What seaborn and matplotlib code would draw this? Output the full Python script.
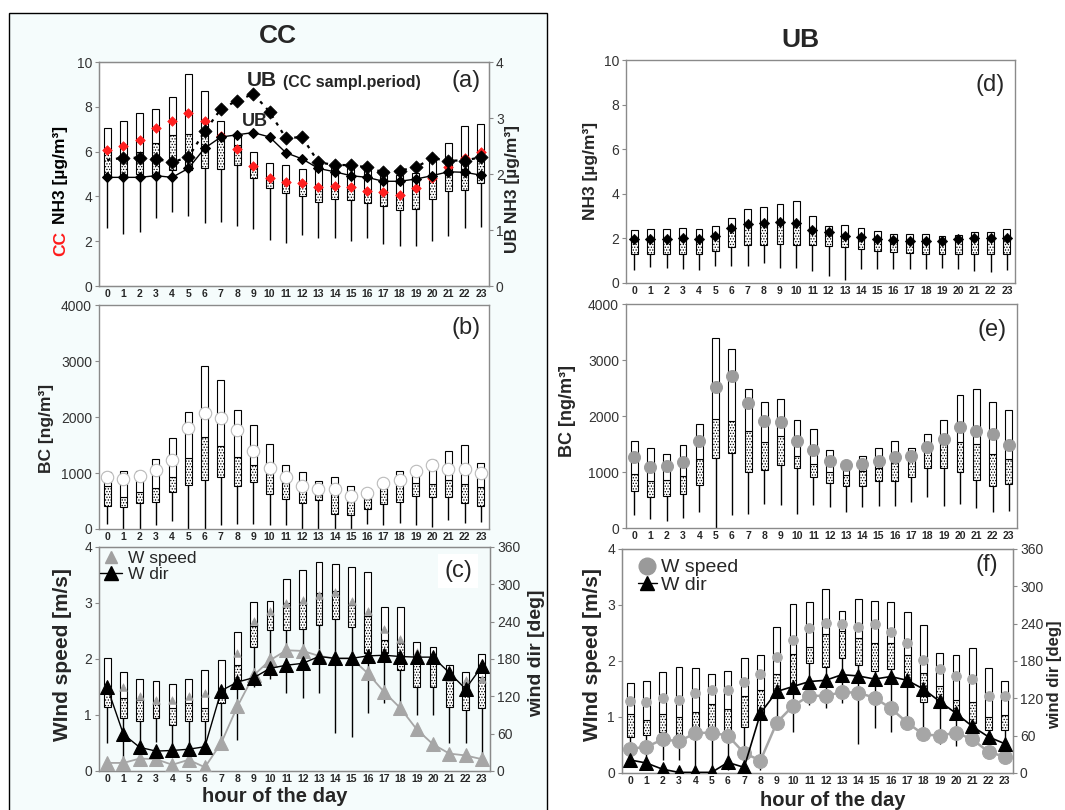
import numpy as np
import matplotlib
matplotlib.use("Agg")
import matplotlib.pyplot as plt
import seaborn as sns
from matplotlib.lines import Line2D
from matplotlib.patches import Rectangle

sns.set_style("ticks")
plt.rcParams["font.family"] = ["Liberation Sans", "DejaVu Sans"]
plt.rcParams["hatch.linewidth"] = 0.6

hours = list(range(24))
hour_labels = [str(h) for h in hours]

# ---------------- (a) CC NH3 [ug/m3] (left) and UB NH3 (right) ----------------
a_top = [7.05, 7.35, 7.72, 7.91, 8.43, 9.46, 8.69, 7.35, 6.75, 6.00, 5.48, 5.38,
         5.23, 5.50, 5.33, 5.26, 5.19, 5.04, 4.96, 5.04, 5.81, 6.38, 7.15, 7.24]
a_med = [6.00, 5.80, 6.00, 6.38, 6.72, 6.78, 6.83, 6.65, 6.30, 5.30, 4.80, 4.60,
         4.50, 4.40, 4.40, 4.35, 4.30, 4.20, 4.00, 4.30, 5.00, 5.20, 5.60, 5.60]
a_q1 = [4.90, 4.90, 5.00, 5.00, 5.20, 5.20, 5.29, 5.23, 5.40, 4.84, 4.38, 4.14,
        4.02, 3.77, 3.87, 3.84, 3.70, 3.58, 3.40, 3.43, 3.87, 4.25, 4.29, 4.62]
a_low = [2.60, 2.32, 2.40, 3.03, 3.32, 3.13, 2.80, 2.85, 2.70, 2.55, 2.06, 1.94,
         2.28, 2.16, 2.16, 2.03, 2.16, 1.86, 1.79, 1.79, 2.01, 2.24, 2.58, 2.65]
a_mean = [6.05, 6.23, 6.53, 7.05, 7.35, 7.72, 7.35, 6.70, 6.11, 5.37, 4.84, 4.66,
          4.62, 4.44, 4.47, 4.40, 4.25, 4.19, 4.07, 4.37, 4.80, 5.30, 5.70, 5.97]
ub_nh3 = [1.94, 1.94, 1.94, 1.97, 1.94, 2.10, 2.46, 2.66, 2.70, 2.74, 2.66, 2.38,
          2.27, 2.10, 2.04, 1.97, 1.94, 1.87, 1.87, 1.91, 1.97, 2.04, 2.03, 1.98]
ub_nh3_ccperiod = [2.25, 2.29, 2.29, 2.27, 2.21, 2.30, 2.76, 3.16, 3.31, 3.43, 3.11, 2.64,
                   2.66, 2.21, 2.16, 2.16, 2.12, 2.03, 2.06, 2.12, 2.28, 2.24, 2.24, 2.30]

# ---------------- (b) CC BC [ng/m3] ----------------
b_top = [1010, 1028, 1040, 1254, 1617, 2086, 2912, 2663, 2128, 1854, 1516, 1135,
         1010, 850, 921, 773, 713, 820, 1028, 1088, 1224, 1397, 1492, 1177]
b_med = [760, 565, 660, 731, 921, 1266, 1640, 1486, 1284, 1135, 1010, 820,
         713, 612, 630, 523, 541, 743, 808, 820, 802, 880, 802, 743]
b_q1 = [416, 386, 464, 481, 660, 779, 868, 927, 761, 832, 630, 541,
        464, 511, 267, 256, 363, 446, 481, 594, 571, 571, 464, 404]
b_low = [89, 0, 0, 77, 137, 0, 0, 65, 89, 89, 65, 65,
         0, 0, 0, 0, 89, 65, 107, 65, 36, 166, 107, 119]
b_mean = [927, 897, 951, 1046, 1236, 1801, 2068, 1979, 1771, 1385, 1088, 921,
          761, 713, 713, 582, 642, 820, 880, 1028, 1135, 1076, 1076, 998]

# ---------------- (c) CC wind speed [m/s] / wind dir [deg] ----------------
c_top = [2.01, 1.76, 1.65, 1.61, 1.55, 1.65, 1.81, 1.99, 2.49, 3.01, 3.04, 3.43,
         3.59, 3.73, 3.70, 3.64, 3.55, 2.92, 2.92, 2.31, 2.21, 1.89, 1.77, 2.09]
c_med = [1.40, 1.30, 1.27, 1.21, 1.13, 1.21, 1.12, 1.37, 1.90, 2.59, 2.83, 3.00,
         3.01, 3.18, 3.22, 2.97, 2.76, 2.34, 2.29, 2.04, 1.95, 1.74, 1.39, 1.68]
c_q1 = [1.15, 0.95, 0.90, 0.95, 0.82, 0.90, 0.90, 1.21, 1.62, 2.21, 2.52, 2.52,
        2.53, 2.61, 2.72, 2.58, 2.10, 2.10, 1.80, 1.50, 1.50, 1.15, 1.09, 1.12]
c_low = [0.50, 0.15, 0.50, 0.52, 0.43, 0.43, 0.43, 0.48, 0.55, 1.50, 1.64, 1.40,
         1.31, 1.40, 0.68, 0.60, 1.03, 1.21, 1.21, 1.00, 1.00, 0.50, 0.50, 0.31]
c_mean = [1.56, 1.50, 1.34, 1.27, 1.27, 1.34, 1.39, 1.44, 2.11, 2.67, 2.85, 3.00,
          3.06, 3.15, 3.19, 3.04, 2.85, 2.53, 2.35, 2.13, 2.04, 1.68, 1.62, 1.65]
c_wdir = [135, 59, 38, 32, 33, 35, 39, 129, 143, 150, 165, 170,
          173, 184, 181, 181, 185, 186, 184, 183, 183, 158, 132, 168]
c_gray = [13, 13, 20, 19, 10, 18, 6, 45, 104, 154, 178, 194,
          193, 185, 181, 181, 157, 127, 101, 67, 43, 28, 25, 19]

# ---------------- (d) UB NH3 [ug/m3] ----------------
d_top = [2.39, 2.43, 2.43, 2.46, 2.43, 2.54, 2.91, 3.31, 3.40, 3.55, 3.66, 2.99,
         2.54, 2.58, 2.46, 2.31, 2.21, 2.21, 2.21, 2.09, 2.16, 2.28, 2.28, 2.42]
d_med = [1.92, 1.92, 1.92, 1.95, 1.93, 2.07, 2.40, 2.60, 2.63, 2.66, 2.64, 2.35,
         2.22, 2.07, 2.00, 1.94, 1.90, 1.83, 1.83, 1.83, 1.94, 1.96, 1.96, 1.96]
d_q1 = [1.31, 1.31, 1.31, 1.30, 1.31, 1.42, 1.61, 1.69, 1.72, 1.76, 1.69, 1.69,
        1.64, 1.61, 1.54, 1.42, 1.39, 1.34, 1.31, 1.30, 1.31, 1.31, 1.31, 1.31]
d_low = [0.60, 0.72, 0.67, 0.63, 0.60, 0.78, 0.75, 0.78, 0.90, 0.67, 0.67, 0.52,
         0.33, 0.15, 0.63, 0.63, 0.63, 0.63, 0.63, 0.67, 0.63, 0.52, 0.48, 0.60]
d_mean = [1.97, 1.97, 1.97, 2.01, 1.99, 2.12, 2.46, 2.66, 2.69, 2.72, 2.69, 2.39,
          2.27, 2.12, 2.06, 1.99, 1.94, 1.87, 1.87, 1.87, 1.99, 2.01, 2.01, 2.01]

# ---------------- (e) UB BC [ng/m3] ----------------
e_top = [1560, 1429, 1321, 1476, 1863, 3393, 3196, 2488, 2250, 2310, 1935, 1768,
         1387, 1202, 1292, 1429, 1548, 1429, 1679, 1935, 2369, 2482, 2250, 2101]
e_med = [964, 845, 863, 923, 1232, 1946, 1905, 1726, 1530, 1649, 1280, 1143,
         994, 952, 1012, 1071, 1161, 1208, 1488, 1506, 1530, 1500, 1321, 1238]
e_q1 = [655, 548, 577, 613, 774, 1250, 1339, 1000, 1030, 1131, 1071, 911,
        804, 744, 756, 833, 845, 911, 1071, 1071, 1000, 851, 744, 792]
e_low = [238, 167, 119, 179, 286, 0, 226, 250, 435, 405, 256, 417,
         375, 280, 375, 387, 387, 458, 554, 387, 435, 357, 280, 310]
e_mean = [1268, 1089, 1101, 1179, 1548, 2518, 2708, 2232, 1917, 1887, 1548, 1387,
          1202, 1119, 1143, 1202, 1268, 1280, 1440, 1595, 1798, 1738, 1679, 1488]

# ---------------- (f) UB wind speed [m/s] / wind dir [deg] ----------------
f_top = [1.60, 1.64, 1.80, 1.89, 1.88, 1.77, 1.82, 2.05, 2.10, 2.61, 3.02, 3.05,
         3.29, 2.89, 3.10, 3.08, 3.05, 2.87, 2.65, 2.14, 2.11, 2.23, 1.88, 1.65]
f_med = [1.06, 0.95, 1.06, 1.00, 1.09, 1.24, 1.15, 1.38, 1.48, 1.77, 2.12, 2.25,
         2.48, 2.53, 2.41, 2.33, 2.33, 2.10, 1.79, 1.56, 1.30, 1.26, 1.00, 1.04]
f_q1 = [0.64, 0.67, 0.73, 0.67, 0.73, 0.73, 0.74, 0.82, 1.02, 1.34, 1.52, 1.96,
        1.89, 2.05, 1.93, 1.82, 1.86, 1.55, 1.26, 1.16, 0.98, 0.89, 0.77, 0.77]
f_low = [0.27, 0.24, 0.24, 0.24, 0.06, 0.06, 0.06, 0.17, 0.06, 0.80, 0.73, 1.22,
         1.16, 1.25, 0.51, 0.80, 0.74, 0.86, 0.65, 0.51, 0.48, 0.60, 0.57, 0.51]
f_mean = [1.29, 1.26, 1.34, 1.31, 1.43, 1.48, 1.48, 1.62, 1.76, 2.08, 2.38, 2.59,
          2.67, 2.66, 2.61, 2.66, 2.51, 2.32, 2.02, 1.86, 1.74, 1.68, 1.38, 1.38]
f_wdir = [21, 16, 6, 1, 1, 1, 17, 9, 96, 131, 139, 147,
          149, 158, 156, 151, 155, 149, 135, 115, 96, 75, 58, 47]
f_gray = [39, 42, 54, 51, 64, 65, 60, 32, 20, 81, 108, 124,
          124, 130, 129, 121, 104, 81, 62, 60, 65, 54, 34, 26]

W, H = 1065, 810
fig = plt.figure(figsize=(W / 100, H / 100), dpi=100)


def px_axes(x0, y0, x1, y1):
    return fig.add_axes([x0 / W, 1 - y1 / H, (x1 - x0) / W, (y1 - y0) / H])


def fx(x):
    return x / W


def fy(y):
    return 1 - y / H


# left panel background frame
fig.patches.append(Rectangle((fx(9), -0.01), fx(547) - fx(9), fy(13) + 0.01,
                             transform=fig.transFigure, facecolor="#f5fcfc",
                             edgecolor="black", lw=1.0, zorder=-5))

SPINE = "#8a8a8a"


def style_axes(ax, ylim, yticks):
    ax.set_xlim(-0.5, 23.5)
    ax.set_ylim(*ylim)
    ax.set_yticks(yticks)
    ax.set_xticks(hours)
    ax.set_xticklabels(hour_labels, fontsize=7.5, fontweight="bold")
    ax.tick_params(axis="x", length=0, pad=2)
    ax.tick_params(axis="y", left=True, direction="out", length=3, width=0.8,
                   color=SPINE, labelsize=10, labelcolor="#333333", pad=2)
    for s in ax.spines.values():
        s.set_visible(True)
        s.set_color(SPINE)
        s.set_linewidth(1.0)
    ax.set_xlabel("")
    ax.set_ylabel("")


def style_twin(ax2, ylim, yticks):
    ax2.set_ylim(*ylim)
    ax2.set_yticks(yticks)
    ax2.tick_params(axis="y", right=True, direction="out", length=3, width=0.8,
                    color=SPINE, labelsize=10, labelcolor="#333333", pad=2)
    for s in ax2.spines.values():
        s.set_color(SPINE)
    ax2.set_ylabel("")


def draw_boxes(ax, top, med, q1, low, width=0.42):
    x = np.array(hours, dtype=float)
    top, med, q1, low = map(np.asarray, (top, med, q1, low))
    ax.vlines(x, low, q1, color="black", lw=1.0, zorder=1)
    ax.bar(x, med - q1, bottom=q1, width=width, facecolor="white",
           edgecolor="black", hatch="......", lw=0.8, zorder=2)
    ax.bar(x, top - med, bottom=med, width=width, facecolor="white",
           edgecolor="black", lw=0.8, zorder=2)


# ===================== (a) =====================
axa = px_axes(99, 62, 489, 286)
draw_boxes(axa, a_top, a_med, a_q1, a_low)
sns.scatterplot(x=hours, y=a_mean, ax=axa, marker="D", s=24, color="#ff2020",
                edgecolor="#ff2020", linewidth=0.5, zorder=4, legend=False)
style_axes(axa, (0, 10), [0, 2, 4, 6, 8, 10])
axa2 = axa.twinx()
sns.lineplot(x=hours, y=ub_nh3, ax=axa2, color="black", lw=1.0, marker="D",
             markersize=5.5, markeredgecolor="black", zorder=5, legend=False)
sns.lineplot(x=hours, y=ub_nh3_ccperiod, ax=axa2, color="black", lw=1.6,
             linestyle=(0, (1.5, 2.5)), zorder=5, legend=False)
sns.scatterplot(x=hours[1:], y=ub_nh3_ccperiod[1:], ax=axa2, marker="D", s=45,
                color="black", edgecolor="black", zorder=6, legend=False)
style_twin(axa2, (0, 4), [0, 1, 2, 3, 4])
axa.text(0.941, 0.915, "(a)", transform=axa.transAxes, fontsize=17,
         ha="center", va="center")
fig.text(fx(247), fy(81), "UB", fontsize=15, fontweight="bold", ha="left", va="center")
fig.text(fx(283), fy(82), "(CC sampl.period)", fontsize=11.5, fontweight="bold",
         ha="left", va="center")
fig.text(fx(242), fy(121), "UB", fontsize=13, fontweight="bold", ha="left", va="center")
fig.text(fx(61), fy(256), "CC", color="#ff1a1a", fontsize=12.5, fontweight="bold",
         rotation=90, ha="center", va="bottom")
fig.text(fx(61), fy(224), "NH3 [µg/m³]", color="black", fontsize=12.5,
         fontweight="bold", rotation=90, ha="center", va="bottom")
fig.text(fx(513), fy(189), "UB NH3 [µg/m³]", fontsize=12.5, fontweight="bold",
         rotation=90, ha="center", va="center")

# ===================== (b) =====================
axb = px_axes(99, 305, 489, 529)
draw_boxes(axb, b_top, b_med, b_q1, b_low)
sns.scatterplot(x=hours, y=b_mean, ax=axb, marker="o", s=80, color="white",
                edgecolor="#bbbbbb", linewidth=0.8, zorder=4, legend=False)
style_axes(axb, (0, 4000), [0, 1000, 2000, 3000, 4000])
axb.text(0.941, 0.897, "(b)", transform=axb.transAxes, fontsize=17,
         ha="center", va="center")
fig.text(fx(47), fy(428), "BC [ng/m³]", fontsize=12.5, fontweight="bold",
         rotation=90, ha="center", va="center")

# ===================== (c) =====================
axc = px_axes(99, 547, 490, 771)
axc.set_facecolor("#f4fbfb")
draw_boxes(axc, c_top, c_med, c_q1, c_low)
sns.scatterplot(x=hours, y=c_mean, ax=axc, marker="^", s=30, color="#a0a0a0",
                edgecolor="#a0a0a0", zorder=4, legend=False)
style_axes(axc, (0, 4), [0, 1, 2, 3, 4])
axc2 = axc.twinx()
sns.lineplot(x=hours, y=c_gray, ax=axc2, color="#a6a6a6", lw=1.3, marker="^",
             markersize=10, markeredgecolor="#a6a6a6", zorder=5, legend=False)
sns.lineplot(x=hours, y=c_wdir, ax=axc2, color="black", lw=1.0, marker="^",
             markersize=10, markeredgecolor="black", zorder=6, legend=False)
style_twin(axc2, (0, 360), [0, 60, 120, 180, 240, 300, 360])
axc.text(0.918, 0.893, "(c)", transform=axc.transAxes, fontsize=17,
         ha="center", va="center", zorder=10,
         bbox=dict(facecolor="white", edgecolor="none", pad=4))
hc = [Line2D([], [], marker="^", color="#a0a0a0", ls="none", markersize=8),
      Line2D([], [], marker="^", color="black", ls="-", lw=1.0, markersize=10)]
axc2.legend(hc, ["W speed", "W dir"], loc="upper left", bbox_to_anchor=(-0.02, 1.02),
            frameon=False, fontsize=12.5, handlelength=1.3, handletextpad=0.3,
            labelspacing=0.05, borderaxespad=0.1)
fig.text(fx(62), fy(655), "WInd speed [m/s]", fontsize=15, fontweight="bold",
         rotation=90, ha="center", va="center")
fig.text(fx(537), fy(653), "wind dir [deg]", fontsize=14, fontweight="bold",
         rotation=90, ha="center", va="center")
fig.text(fx(275), fy(797), "hour of the day", fontsize=14.5, fontweight="bold",
         ha="center", va="center")

# ===================== (d) =====================
axd = px_axes(626, 60, 1015, 283)
draw_boxes(axd, d_top, d_med, d_q1, d_low)
sns.scatterplot(x=hours, y=d_mean, ax=axd, marker="D", s=28, color="black",
                edgecolor="black", zorder=4, legend=False)
style_axes(axd, (0, 10), [0, 2, 4, 6, 8, 10])
axd.text(0.936, 0.888, "(d)", transform=axd.transAxes, fontsize=17,
         ha="center", va="center")
fig.text(fx(591), fy(171), "NH3 [µg/m³]", fontsize=12.5, fontweight="bold",
         rotation=90, ha="center", va="center")

# ===================== (e) =====================
axe = px_axes(626, 304, 1017, 528)
draw_boxes(axe, e_top, e_med, e_q1, e_low)
sns.scatterplot(x=hours, y=e_mean, ax=axe, marker="o", s=75, color="#9c9c9c",
                edgecolor="#9c9c9c", zorder=4, legend=False)
style_axes(axe, (0, 4000), [0, 1000, 2000, 3000, 4000])
axe.text(0.936, 0.884, "(e)", transform=axe.transAxes, fontsize=17,
         ha="center", va="center")
fig.text(fx(567), fy(411), "BC [ng/m³]", fontsize=13, fontweight="bold",
         rotation=90, ha="center", va="center")

# ===================== (f) =====================
axf = px_axes(622, 549, 1013, 773)
draw_boxes(axf, f_top, f_med, f_q1, f_low)
sns.scatterplot(x=hours, y=f_mean, ax=axf, marker="o", s=50, color="#aaaaaa",
                edgecolor="#aaaaaa", zorder=4, legend=False)
style_axes(axf, (0, 4), [0, 1, 2, 3, 4])
axf2 = axf.twinx()
sns.lineplot(x=hours, y=f_gray, ax=axf2, color="#a6a6a6", lw=1.8, marker="o",
             markersize=10, markeredgecolor="#a6a6a6", zorder=5, legend=False)
sns.lineplot(x=hours, y=f_wdir, ax=axf2, color="black", lw=1.2, marker="^",
             markersize=10, markeredgecolor="black", zorder=6, legend=False)
style_twin(axf2, (0, 360), [0, 60, 120, 180, 240, 300, 360])
axf.text(0.933, 0.929, "(f)", transform=axf.transAxes, fontsize=17,
         ha="center", va="center")
hf = [Line2D([], [], marker="o", color="#9a9a9a", ls="none", markersize=12),
      Line2D([], [], marker="^", color="black", ls="-", lw=1.0, markersize=10)]
axf2.legend(hf, ["W speed", "W dir"], loc="upper left", bbox_to_anchor=(0.015, 1.0),
            frameon=False, fontsize=14, handlelength=1.0, handletextpad=0.2,
            labelspacing=0.0, borderaxespad=0.1)
fig.text(fx(592), fy(655), "WInd speed [m/s]", fontsize=15, fontweight="bold",
         rotation=90, ha="center", va="center")
fig.text(fx(1055), fy(675), "wind dir [deg]", fontsize=12, fontweight="bold",
         rotation=90, ha="center", va="center")
fig.text(fx(833), fy(800), "hour of the day", fontsize=14.5, fontweight="bold",
         ha="center", va="center")

# titles
fig.text(fx(278), fy(36), "CC", fontsize=19, fontweight="bold", ha="center", va="center")
fig.text(fx(800), fy(40), "UB", fontsize=19, fontweight="bold", ha="center", va="center")

fig.savefig("out.png", dpi=100, facecolor="white")
